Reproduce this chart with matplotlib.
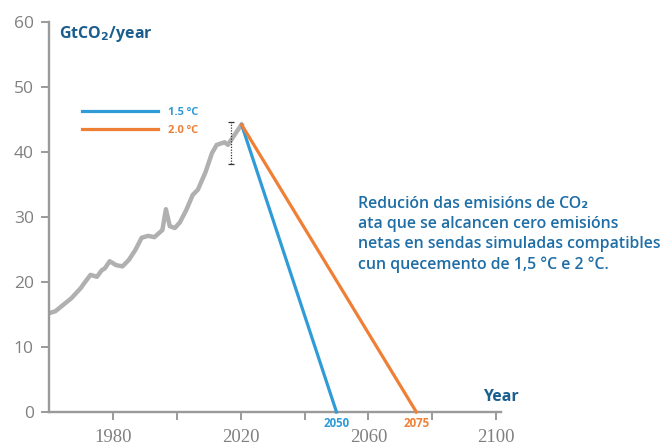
import numpy as np
import matplotlib
matplotlib.use("Agg")
import matplotlib.pyplot as plt

# historical CO2 emissions (GtCO2/year)
hist_years = [1960, 1962, 1964, 1967, 1970, 1971, 1973, 1975, 1976.5, 1977.5, 1979,
              1981, 1983, 1985, 1987, 1989, 1991, 1993, 1995.5, 1996.6, 1997.8,
              1999.4, 2001, 2003, 2005, 2006.6, 2009, 2011, 2012.5, 2015, 2016,
              2017.5, 2019.7, 2020.3]
hist_values = [15.2, 15.5, 16.3, 17.5, 19.1, 19.8, 21.1, 20.8, 21.8, 22.1, 23.2,
               22.6, 22.4, 23.4, 24.9, 26.8, 27.1, 26.9, 28.0, 31.2, 28.6,
               28.3, 29.2, 31.1, 33.4, 34.2, 36.9, 39.8, 41.1, 41.5, 41.1,
               42.2, 43.8, 44.2]

# pathways to net zero
path_labels = ["1.5 ºC", "2.0 ºC"]
path_years = [[2020.3, 2050], [2020.3, 2075]]
path_values = [[44.2, 0], [44.2, 0]]
path_colors = ["#2f9bd7", "#f07f36"]

# uncertainty bar
err_year = 2017
err_mid = 41.4
err_half = 3.2

xticks = [1980, 2000, 2020, 2040, 2060, 2080, 2100]
xticklabels = ["1980", "", "2020", "", "2060", "", "2100"]
yticks = [0, 10, 20, 30, 40, 50, 60]

title_col = "#1b5e8e"
note_col = "#1f6ea6"
axis_col = "#9a9a9a"
tick_col = "#808080"

fig = plt.figure(figsize=(6.7, 4.45), dpi=100)
ax = fig.add_axes([49 / 670, 1 - 412 / 445, 452 / 670, 390 / 445])

ax.plot(hist_years, hist_values, color="#b0b0b0", lw=3.2, solid_joinstyle="round", zorder=2)

lines = []
for yrs, vals, c, lab in zip(path_years, path_values, path_colors, path_labels):
    ln, = ax.plot(yrs, vals, color=c, lw=2.3, label=lab, zorder=3, clip_on=False)
    lines.append(ln)

eb = ax.errorbar([err_year], [err_mid], yerr=[[err_half], [err_half]], fmt="none",
                 ecolor="#333333", elinewidth=0.9, capsize=2.5, capthick=0.9, zorder=4)
eb[-1][0].set_linestyle((0, (1, 1.2)))

ax.set_xlim(1960, 2101.5)
ax.set_ylim(0, 60)

for s in ["top", "right"]:
    ax.spines[s].set_visible(False)
for s in ["left", "bottom"]:
    ax.spines[s].set_color(axis_col)
    ax.spines[s].set_linewidth(1.7)

ax.set_xticks(xticks)
ax.set_xticklabels(xticklabels, family="Liberation Serif", fontsize=13.5, color=tick_col)
ax.set_yticks(yticks)
ax.set_yticklabels([str(v) for v in yticks], family="Open Sans", fontsize=12.5,
                   color=tick_col)
ax.tick_params(axis="both", colors=axis_col, width=1.4, length=6)
ax.tick_params(axis="x", labelcolor=tick_col, pad=6)
ax.tick_params(axis="y", labelcolor=tick_col, pad=5)

leg = ax.legend(handles=lines, loc="upper left", bbox_to_anchor=(0.073, 0.782),
                frameon=False, handlelength=6.8, handletextpad=0.9, labelspacing=0.6,
                borderpad=0, borderaxespad=0,
                prop={"family": "Open Sans", "weight": "bold", "size": 8})
for txt, c in zip(leg.get_texts(), path_colors):
    txt.set_color(c)

# net zero years under the axis
for yrs, c in zip(path_years, path_colors):
    ax.text(yrs[-1], -1.7, str(yrs[-1]), color=c, fontsize=8.3, fontweight="bold",
            family="Open Sans", ha="center", va="center", clip_on=False)

ax.text(2096, 2.3, "Year", color=title_col, fontsize=11.5, fontweight="bold",
        family="Open Sans", ha="left", va="center", clip_on=False)

fig.text(59 / 670, 1 - 34 / 445, r"GtCO$_\mathbf{2}$/year", color=title_col,
         fontsize=11.5, fontweight="bold", family="Open Sans", ha="left", va="center")

note = ("Redución das emisións de CO₂\n"
        "ata que se alcancen cero emisións\n"
        "netas en sendas simuladas compatibles\n"
        "cun quecemento de 1,5 °C e 2 °C.")
fig.text(358 / 670, 1 - 196 / 445, note, color=note_col, fontsize=11.4,
         fontweight="semibold", family=["Open Sans", "DejaVu Sans"], ha="left",
         va="top", linespacing=1.33)

fig.savefig("out.png", dpi=100)
